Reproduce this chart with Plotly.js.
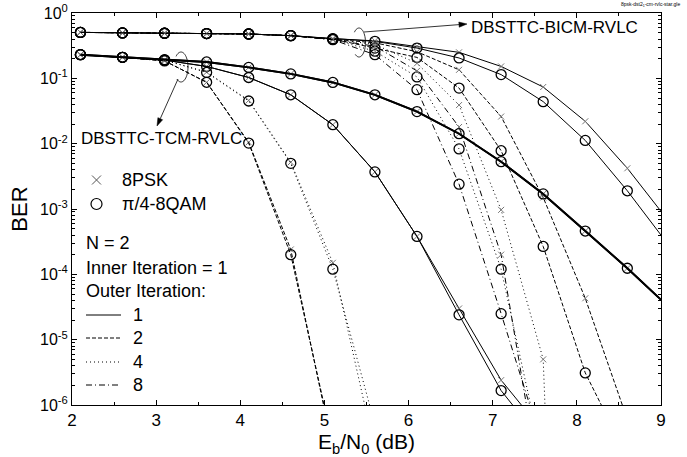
<!DOCTYPE html>
<html><head><meta charset="utf-8">
<script src="https://cdn.plot.ly/plotly-3.0.1.min.js"></script>
<style>html,body{margin:0;padding:0;background:#fff}#chart{width:687px;height:457px}</style>
</head><body><div id="chart"></div>
<script>
// ---- data (Eb/N0 in dB, BER) ----
const ebn0 = [2.1,2.6,3.1,3.6,4.1,4.6,5.1,5.6,6.1,6.6,7.1,7.6,8.1,8.6,9.1];

// DBSTTC-TCM-RVLC
const tcmPsk1 = [0.23,0.21,0.193,0.178,0.147,0.117,0.0865,0.056,0.031,0.0142,0.0053,0.0017,4.6e-4,1.24e-4,3.1e-5];
const tcmQam1 = [0.23,0.21,0.193,0.178,0.147,0.117,0.0865,0.056,0.031,0.0142,0.0053,0.0017,4.6e-4,1.24e-4,3.1e-5];
const tcmPskB = [0.23,0.21,0.19,0.152,0.103,0.056,0.0195,0.0037,3.8e-4,3.0e-5,2.4e-6,3.9e-7];
const tcmQamB = [0.23,0.21,0.19,0.152,0.103,0.056,0.0195,0.0037,3.8e-4,2.4e-5,1.66e-6,2.6e-7];
const tcmPsk2 = [0.23,0.21,0.185,0.087,0.0105,2.4e-4,2.1e-7];
const tcmQam2 = [0.23,0.21,0.185,0.087,0.0102,2.0e-4,2.5e-7];
const tcmPsk4 = [0.23,0.21,0.19,0.125,0.046,5.2e-3,1.5e-4,2.0e-7];
const tcmQam4 = [0.23,0.21,0.19,0.123,0.045,5.0e-3,1.2e-4,5.0e-7];

// DBSTTC-BICM-RVLC
const bicmPsk1 = [0.505,0.495,0.49,0.485,0.477,0.45,0.405,0.375,0.31,0.25,0.152,0.0736,0.022,4.2e-3,6.3e-4];
const bicmQam1 = [0.505,0.495,0.49,0.485,0.477,0.45,0.404,0.368,0.291,0.205,0.114,0.044,0.0112,1.9e-3,2.7e-4];
const bicmPsk2 = [0.505,0.495,0.49,0.485,0.477,0.45,0.40,0.35,0.255,0.135,0.026,1.5e-3,4.3e-5,6.0e-7];
const bicmQam2 = [0.505,0.495,0.49,0.485,0.477,0.45,0.40,0.29,0.209,0.071,7.8e-3,2.67e-4,3.1e-6,1.6e-7];
const bicmPsk4 = [0.505,0.495,0.49,0.485,0.477,0.45,0.40,0.33,0.17,0.039,9.7e-4,5.0e-6,1e-22];
const bicmQam4 = [0.505,0.495,0.49,0.485,0.477,0.45,0.395,0.26,0.105,8.3e-3,1.2e-4,1.3e-7];
const bicmPsk8 = [0.505,0.495,0.49,0.485,0.477,0.45,0.39,0.31,0.13,0.018,2.0e-4,3.0e-8];
const bicmQam8 = [0.505,0.495,0.49,0.485,0.477,0.45,0.39,0.23,0.067,2.4e-3,2.5e-5,2.2e-7];

const yTickVals = [1,0.1,0.01,1e-3,1e-4,1e-5,1e-6];
const yTickText = ['10<sup>0</sup>','10<sup>-1</sup>','10<sup>-2</sup>','10<sup>-3</sup>','10<sup>-4</sup>','10<sup>-5</sup>','10<sup>-6</sup>'];
const iterLabels = ['1','2','4','8'];

// ---- styling ----
const FONT = 'Liberation Sans, Arial, sans-serif';
const DASH = {1:'solid', 2:'4px,2px', 4:'1px,3px', 8:'6px,3px,1px,3px', B:'solid'};
const PSK_MARK = {symbol:'x-thin-open', size:6, color:'#777', line:{color:'#777', width:1}};
const QAM_MARK = {symbol:'circle-open', size:10, color:'#000', line:{color:'#000', width:1.3}};

function tr(y, mod, it, w){
  return {x: ebn0.slice(0, y.length), y: y, type:'scatter', mode:'lines+markers',
    line:{color:'#000', width:w||1, dash:DASH[it]},
    marker: mod==='psk' ? PSK_MARK : QAM_MARK, showlegend:false, cliponaxis:true};
}
const data = [
  tr(bicmPsk1,'psk',1), tr(bicmQam1,'qam',1),
  tr(bicmPsk2,'psk',2), tr(bicmQam2,'qam',2),
  tr(bicmPsk4,'psk',4), tr(bicmQam4,'qam',4),
  tr(bicmPsk8,'psk',8), tr(bicmQam8,'qam',8),
  tr(tcmPskB,'psk','B'), tr(tcmQamB,'qam','B'),
  tr(tcmPsk2,'psk',2), tr(tcmQam2,'qam',2),
  tr(tcmPsk4,'psk',4), tr(tcmQam4,'qam',4),
  tr(tcmPsk1,'psk',1,1.9), tr(tcmQam1,'qam',1,1.9)
];

// pixel -> paper helpers (plot area 72..661 x 13..405)
const L=72, R=661, T=13, Bt=405;
const px = v => (v-L)/(R-L);
const py = v => (Bt-v)/(Bt-T);

const ann = [];
const shapes = [];
function txt(t, x, y, size, anchor){
  ann.push({text:t, xref:'paper', yref:'paper', x:px(x), y:py(y), showarrow:false,
    xanchor:anchor||'left', yanchor:'middle', font:{family:FONT, size:size, color:'#000'}});
}
txt('DBSTTC-BICM-RVLC', 469, 28, 17);
txt('DBSTTC-TCM-RVLC', 79, 138, 17);
txt('8PSK', 120, 180, 18);
txt('π/4-8QAM', 120, 204, 18);
txt('N = 2', 84, 243, 18);
txt('Inner Iteration = 1', 84, 268, 18);
txt('Outer Iteration:', 84, 291, 18);
const legY = [315, 338, 362, 385];
iterLabels.forEach((lab, i) => {
  txt(lab, 131, legY[i], 18);
  shapes.push({type:'line', xref:'paper', yref:'paper', x0:px(86), x1:px(121), y0:py(legY[i]), y1:py(legY[i]),
    line:{color:'#000', width:1, dash:DASH[+lab]}});
});
// legend symbols
shapes.push({type:'line', xref:'paper', yref:'paper', x0:px(92), x1:px(101), y0:py(175.5), y1:py(184.5), line:{color:'#555', width:1}});
shapes.push({type:'line', xref:'paper', yref:'paper', x0:px(92), x1:px(101), y0:py(184.5), y1:py(175.5), line:{color:'#555', width:1}});
shapes.push({type:'circle', xref:'paper', yref:'paper', xsizemode:'pixel', ysizemode:'pixel',
  xanchor:px(96.5), yanchor:py(204), x0:-5.5, x1:5.5, y0:-5.5, y1:5.5, line:{color:'#000', width:1.2}});

// ellipse arcs marking curve groups (paper coords)
function arc(cx, cy, rx, ry, a0, a1){
  let d = '';
  for(let k=0;k<=40;k++){
    const a = (a0 + (a1-a0)*k/40)*Math.PI/180;
    d += (k? ' L':'M') + px(cx + rx*Math.cos(a)).toFixed(5) + ',' + py(cy - ry*Math.sin(a)).toFixed(5);
  }
  shapes.push({type:'path', xref:'paper', yref:'paper', path:d, line:{color:'#000', width:0.8}});
}
arc(181, 67, 7, 15, -125, 135);
arc(359, 42.5, 6.5, 14.5, -125, 135);

// arrows drawn as shapes: shaft + filled head
function arrow(tx, ty, fx, fy){
  const dx = tx-fx, dy = ty-fy, len = Math.hypot(dx,dy), ux = dx/len, uy = dy/len;
  const hl = 8, hw = 2.6;
  const bx = tx-ux*hl, by = ty-uy*hl;
  shapes.push({type:'line', xref:'paper', yref:'paper', x0:px(fx), y0:py(fy), x1:px(bx), y1:py(by), line:{color:'#000', width:0.8}});
  const p1 = [bx - uy*hw, by + ux*hw], p2 = [bx + uy*hw, by - ux*hw];
  shapes.push({type:'path', xref:'paper', yref:'paper',
    path:'M'+px(tx)+','+py(ty)+' L'+px(p1[0])+','+py(p1[1])+' L'+px(p2[0])+','+py(p2[1])+' Z',
    fillcolor:'#000', line:{color:'#000', width:0.5}});
}
arrow(467, 24, 364, 32);
arrow(157, 126, 178, 79);

// tiny file tag
ann.push({text:'8psk-dst2<sub>1</sub>-cm-rvlc-star.gle', xref:'paper', yref:'paper', x:px(682), y:py(5),
  showarrow:false, xanchor:'right', yanchor:'middle', font:{family:FONT, size:5, color:'#000'}});

const layout = {
  width:687, height:457, margin:{l:72, r:26, t:13, b:52},
  paper_bgcolor:'#fff', plot_bgcolor:'#fff', showlegend:false,
  font:{family:FONT, color:'#000'},
  xaxis:{range:[2,9], dtick:1, tick0:2, ticks:'inside', ticklen:5, tickcolor:'#000',
    showline:true, linecolor:'#000', linewidth:1, mirror:'ticks', showgrid:false, zeroline:false,
    minor:{dtick:0.5, ticks:'inside', ticklen:3, tickcolor:'#000', showgrid:false},
    tickfont:{family:FONT, size:17},
    title:{text:'E<sub>b</sub>/N<sub>0</sub> (dB)', font:{family:FONT, size:21}, standoff:4}},
  yaxis:{type:'log', range:[-6,0], tickmode:'array', tickvals:yTickVals, ticktext:yTickText,
    ticks:'inside', ticklen:5, tickcolor:'#000',
    showline:true, linecolor:'#000', linewidth:1, mirror:'ticks', showgrid:false, zeroline:false,
    minor:{dtick:'D1', ticks:'inside', ticklen:3, tickcolor:'#000', showgrid:false},
    tickfont:{family:FONT, size:16},
    title:{text:'BER', font:{family:FONT, size:22}, standoff:6}},
  annotations:ann, shapes:shapes
};
Plotly.newPlot('chart', data, layout, {staticPlot:true, displayModeBar:false});
</script></body></html>
